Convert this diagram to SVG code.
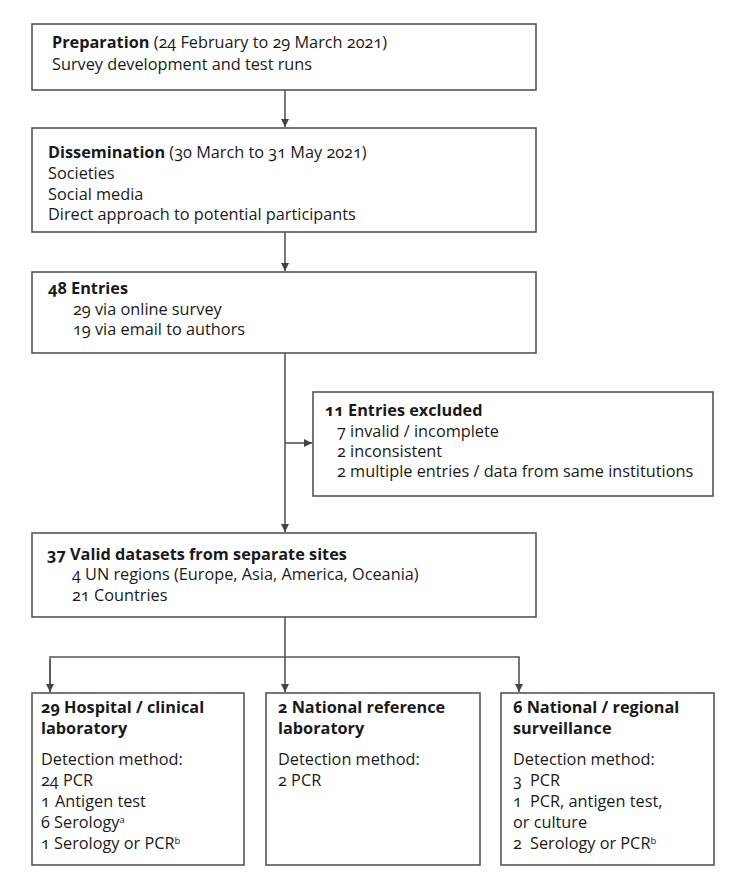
<svg xmlns="http://www.w3.org/2000/svg" width="738" height="891" viewBox="0 0 738 891">
<style>
.box{fill:#fff;stroke:#555;stroke-width:1.6}
.t{font-family:"Open Sans","Noto Sans","Liberation Sans",sans-serif;font-size:16.3px;fill:#1a1a1a;font-variant-numeric:oldstyle-nums}
.b{font-weight:bold}
.s{font-size:9.5px}
.c{fill:none;stroke:#555;stroke-width:1.6}
</style>
<defs>
<marker id="ah" markerWidth="10" markerHeight="10" refX="8" refY="4" orient="auto" markerUnits="userSpaceOnUse">
<path d="M0,0 L8,4 L0,8 Z" fill="#444"/>
</marker>
</defs>
<rect width="738" height="891" fill="#fff"/>
<g id="connectors">
<line class="c" x1="285" y1="90" x2="285" y2="127" marker-end="url(#ah)"/>
<line class="c" x1="285" y1="232" x2="285" y2="271" marker-end="url(#ah)"/>
<line class="c" x1="285" y1="353" x2="285" y2="532" marker-end="url(#ah)"/>
<line class="c" x1="285" y1="443" x2="312" y2="443" marker-end="url(#ah)"/>
<line class="c" x1="285" y1="617" x2="285" y2="692" marker-end="url(#ah)"/>
<polyline class="c" points="50,692 50,657 519,657 519,692" marker-end="url(#ah)"/>
<line class="c" x1="50" y1="660" x2="50" y2="692" marker-end="url(#ah)"/>
</g>
<g id="preparation">
<rect class="box" x="32" y="24" width="504" height="66"/>
<text class="t" x="52" y="48"><tspan class="b">Preparation</tspan> (24 February to 29 March 2021)</text>
<text class="t" x="52" y="70">Survey development and test runs</text>
</g>
<g id="dissemination">
<rect class="box" x="32" y="128" width="504" height="104"/>
<text class="t" x="48" y="158"><tspan class="b">Dissemination</tspan> (30 March to 31 May 2021)</text>
<text class="t" x="48" y="179">Societies</text>
<text class="t" x="48" y="200">Social media</text>
<text class="t" x="48" y="220">Direct approach to potential participants</text>
</g>
<g id="entries">
<rect class="box" x="32" y="272" width="504" height="81"/>
<text class="t b" x="48" y="294">48 Entries</text>
<text class="t" x="73" y="315">29 via online survey</text>
<text class="t" x="73" y="335">19 via email to authors</text>
</g>
<g id="excluded">
<rect class="box" x="313" y="392" width="400" height="104"/>
<text class="t b" x="325" y="416">11 Entries excluded</text>
<text class="t" x="337" y="437">7 invalid / incomplete</text>
<text class="t" x="337" y="457">2 inconsistent</text>
<text class="t" x="337" y="477">2 multiple entries / data from same institutions</text>
</g>
<g id="valid">
<rect class="box" x="32" y="533" width="504" height="84"/>
<text class="t b" x="47" y="560">37 Valid datasets from separate sites</text>
<text class="t" x="72" y="580">4 UN regions (Europe, Asia, America, Oceania)</text>
<text class="t" x="72" y="601">21 Countries</text>
</g>
<g id="hospital">
<rect class="box" x="32" y="693" width="212" height="172"/>
<text class="t b" x="41" y="713">29 Hospital / clinical</text>
<text class="t b" x="41" y="734">laboratory</text>
<text class="t" x="41" y="765">Detection method:</text>
<text class="t" x="41" y="786">24 PCR</text>
<text class="t" x="41" y="807">1<tspan x="55">Antigen test</tspan></text>
<text class="t" x="41" y="828">6 Serology<tspan class="s" dy="-5">a</tspan></text>
<text class="t" x="41" y="849">1 Serology or PCR<tspan class="s" dy="-5">b</tspan></text>
</g>
<g id="national-reference">
<rect class="box" x="266" y="693" width="214" height="172"/>
<text class="t b" x="278" y="713">2 National reference</text>
<text class="t b" x="278" y="734">laboratory</text>
<text class="t" x="278" y="765">Detection method:</text>
<text class="t" x="278" y="786">2 PCR</text>
</g>
<g id="surveillance">
<rect class="box" x="501" y="693" width="213" height="172"/>
<text class="t b" x="513" y="713">6 National / regional</text>
<text class="t b" x="513" y="734">surveillance</text>
<text class="t" x="513" y="765">Detection method:</text>
<text class="t" x="513" y="786">3<tspan x="530">PCR</tspan></text>
<text class="t" x="513" y="807">1<tspan x="530">PCR, antigen test,</tspan></text>
<text class="t" x="513" y="828">or culture</text>
<text class="t" x="513" y="849">2<tspan x="530">Serology or PCR</tspan><tspan class="s" dy="-5">b</tspan></text>
</g>
</svg>
